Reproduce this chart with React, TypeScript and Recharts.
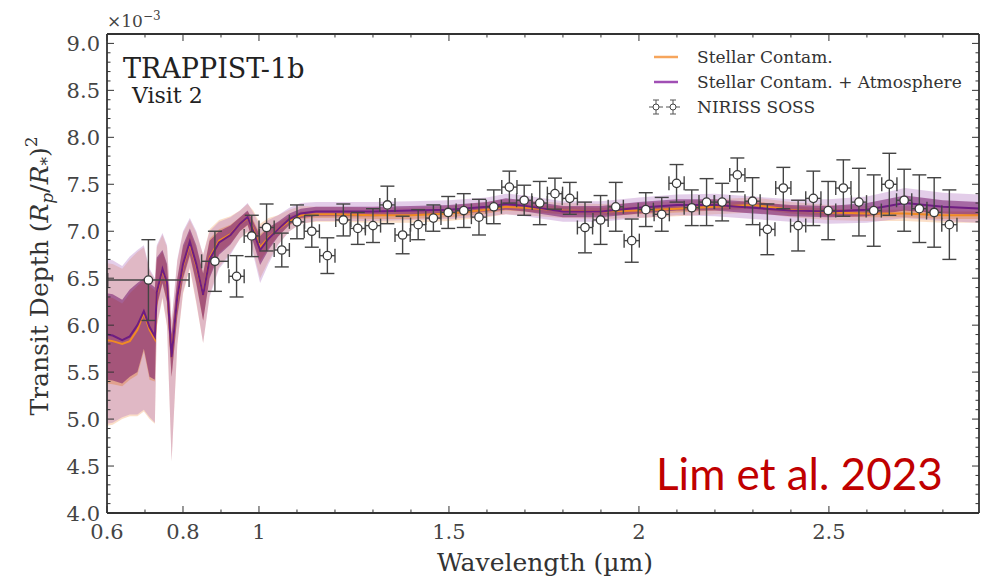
import React from 'react'
import { ComposedChart, Area, Line, Scatter, ErrorBar, XAxis, YAxis, Legend } from 'recharts'

// model grid (µm)
const MODEL_WL = [0.600, 0.615, 0.640, 0.660, 0.680, 0.697, 0.712, 0.726, 0.731, 0.746, 0.758, 0.770, 0.785, 0.800, 0.818, 0.835, 0.853, 0.870, 0.895, 0.925, 0.950, 0.970, 0.985, 1.003, 1.025, 1.050, 1.080, 1.110, 1.150, 1.200, 1.300, 1.400, 1.500, 1.600, 1.650, 1.700, 1.800, 1.900, 2.000, 2.100, 2.200, 2.300, 2.400, 2.500, 2.600, 2.700, 2.800, 2.900]

// Stellar Contam. + Atmosphere (purple)
const ATM_MID = [5.90, 5.89, 5.84, 5.88, 6.00, 6.15, 5.98, 5.88, 6.35, 6.60, 6.45, 5.66, 6.30, 6.65, 6.89, 6.65, 6.32, 6.70, 6.88, 6.96, 7.08, 7.15, 7.00, 6.80, 6.92, 7.02, 7.13, 7.19, 7.21, 7.21, 7.21, 7.22, 7.23, 7.26, 7.29, 7.27, 7.21, 7.21, 7.25, 7.28, 7.28, 7.25, 7.22, 7.21, 7.23, 7.30, 7.26, 7.24]
const ATM_1LO = [5.42, 5.41, 5.38, 5.45, 5.50, 5.75, 5.45, 5.42, 6.20, 6.45, 6.25, 5.45, 6.10, 6.50, 6.75, 6.45, 6.05, 6.50, 6.75, 6.86, 7.00, 7.07, 6.88, 6.64, 6.80, 6.94, 7.07, 7.14, 7.16, 7.16, 7.16, 7.17, 7.18, 7.21, 7.23, 7.21, 7.15, 7.15, 7.19, 7.22, 7.22, 7.19, 7.16, 7.15, 7.16, 7.22, 7.19, 7.17]
const ATM_1HI = [6.34, 6.33, 6.27, 6.38, 6.45, 6.50, 6.45, 6.40, 6.72, 6.80, 6.65, 5.90, 6.50, 6.85, 7.03, 6.85, 6.55, 6.90, 7.00, 7.06, 7.15, 7.22, 7.10, 6.95, 7.04, 7.10, 7.19, 7.24, 7.26, 7.26, 7.26, 7.27, 7.28, 7.31, 7.35, 7.33, 7.27, 7.27, 7.31, 7.34, 7.34, 7.31, 7.28, 7.27, 7.30, 7.38, 7.33, 7.31]
const ATM_2LO = [4.95, 4.96, 5.02, 5.05, 5.05, 5.10, 5.02, 4.96, 6.00, 6.30, 6.00, 4.55, 5.80, 6.35, 6.62, 6.25, 5.81, 6.30, 6.60, 6.75, 6.92, 7.00, 6.75, 6.45, 6.65, 6.85, 7.00, 7.08, 7.11, 7.11, 7.11, 7.12, 7.13, 7.16, 7.18, 7.16, 7.10, 7.10, 7.14, 7.17, 7.16, 7.13, 7.10, 7.08, 7.09, 7.14, 7.11, 7.09]
const ATM_2HI = [6.70, 6.69, 6.63, 6.73, 6.80, 6.85, 6.60, 6.50, 6.85, 6.98, 6.85, 6.05, 6.70, 7.00, 7.14, 7.00, 6.75, 7.00, 7.10, 7.15, 7.22, 7.30, 7.20, 7.05, 7.12, 7.17, 7.25, 7.30, 7.31, 7.31, 7.31, 7.32, 7.33, 7.36, 7.40, 7.38, 7.32, 7.32, 7.36, 7.39, 7.40, 7.37, 7.34, 7.34, 7.37, 7.46, 7.41, 7.39]

// Stellar Contam. (orange)
const STAR_MID = [5.84, 5.83, 5.80, 5.83, 5.95, 6.13, 5.95, 5.85, 6.33, 6.59, 6.43, 5.66, 6.28, 6.63, 6.87, 6.63, 6.32, 6.72, 6.90, 6.97, 7.08, 7.14, 7.02, 6.83, 6.93, 7.02, 7.11, 7.17, 7.18, 7.18, 7.17, 7.17, 7.19, 7.23, 7.26, 7.25, 7.22, 7.21, 7.22, 7.24, 7.26, 7.28, 7.23, 7.20, 7.19, 7.19, 7.17, 7.17]
const STAR_1LO = [5.38, 5.37, 5.35, 5.42, 5.47, 5.72, 5.42, 5.40, 6.18, 6.44, 6.23, 5.45, 6.08, 6.48, 6.73, 6.43, 6.05, 6.52, 6.77, 6.87, 7.00, 7.06, 6.90, 6.68, 6.82, 6.95, 7.06, 7.13, 7.14, 7.14, 7.13, 7.13, 7.15, 7.19, 7.22, 7.21, 7.18, 7.17, 7.18, 7.20, 7.22, 7.24, 7.19, 7.16, 7.15, 7.15, 7.13, 7.13]
const STAR_1HI = [6.30, 6.29, 6.23, 6.34, 6.42, 6.48, 6.42, 6.37, 6.70, 6.78, 6.63, 5.88, 6.48, 6.82, 7.00, 6.82, 6.55, 6.92, 7.02, 7.07, 7.15, 7.21, 7.12, 6.97, 7.04, 7.09, 7.16, 7.21, 7.22, 7.22, 7.21, 7.21, 7.23, 7.27, 7.30, 7.29, 7.26, 7.25, 7.26, 7.28, 7.30, 7.32, 7.27, 7.24, 7.23, 7.23, 7.21, 7.21]
const STAR_2LO = [4.93, 4.94, 5.00, 5.03, 5.03, 5.08, 5.00, 4.95, 5.98, 6.28, 5.98, 4.55, 5.78, 6.33, 6.60, 6.23, 5.81, 6.32, 6.62, 6.77, 6.92, 6.99, 6.78, 6.50, 6.68, 6.86, 7.00, 7.08, 7.10, 7.10, 7.09, 7.09, 7.11, 7.15, 7.18, 7.17, 7.14, 7.13, 7.14, 7.16, 7.18, 7.20, 7.15, 7.12, 7.11, 7.11, 7.09, 7.09]
const STAR_2HI = [6.66, 6.65, 6.60, 6.70, 6.78, 6.83, 6.58, 6.48, 6.83, 6.96, 6.83, 6.03, 6.68, 6.98, 7.12, 6.98, 6.75, 7.02, 7.12, 7.16, 7.22, 7.29, 7.22, 7.08, 7.14, 7.17, 7.23, 7.27, 7.26, 7.26, 7.25, 7.25, 7.27, 7.31, 7.34, 7.33, 7.30, 7.29, 7.30, 7.32, 7.34, 7.36, 7.31, 7.28, 7.27, 7.27, 7.25, 7.25]

// NIRISS SOSS spectrum (depth in units of 1e-3)
const SOSS_WL = [0.709, 0.884, 0.941, 0.981, 1.02, 1.06, 1.10, 1.139, 1.18, 1.222, 1.26, 1.30, 1.338, 1.378, 1.419, 1.459, 1.498, 1.539, 1.579, 1.618, 1.659, 1.698, 1.739, 1.779, 1.818, 1.858, 1.899, 1.939, 1.981, 2.018, 2.06, 2.099, 2.139, 2.178, 2.219, 2.259, 2.299, 2.338, 2.38, 2.419, 2.459, 2.498, 2.538, 2.579, 2.618, 2.659, 2.698, 2.738, 2.777, 2.817]
const SOSS_WL_ERR = [0.107, 0.035, 0.02, 0.02, 0.02, 0.02, 0.02, 0.02, 0.02, 0.02, 0.02, 0.02, 0.02, 0.02, 0.02, 0.02, 0.02, 0.02, 0.02, 0.02, 0.02, 0.02, 0.02, 0.02, 0.02, 0.02, 0.02, 0.02, 0.02, 0.02, 0.02, 0.02, 0.02, 0.02, 0.02, 0.02, 0.02, 0.02, 0.02, 0.02, 0.02, 0.02, 0.02, 0.02, 0.02, 0.02, 0.02, 0.02, 0.02, 0.02]
const SOSS_DEPTH = [6.48, 6.68, 6.52, 6.95, 7.04, 6.80, 7.10, 7.00, 6.74, 7.12, 7.03, 7.06, 7.28, 6.96, 7.07, 7.14, 7.20, 7.22, 7.15, 7.26, 7.47, 7.33, 7.30, 7.40, 7.35, 7.04, 7.12, 7.26, 6.90, 7.23, 7.18, 7.51, 7.25, 7.31, 7.31, 7.60, 7.32, 7.02, 7.46, 7.06, 7.35, 7.22, 7.46, 7.31, 7.22, 7.50, 7.33, 7.24, 7.20, 7.07]
const SOSS_ERR = [0.43, 0.32, 0.22, 0.22, 0.25, 0.18, 0.18, 0.17, 0.19, 0.17, 0.17, 0.18, 0.2, 0.2, 0.16, 0.14, 0.17, 0.18, 0.19, 0.18, 0.17, 0.16, 0.23, 0.165, 0.17, 0.27, 0.26, 0.26, 0.23, 0.18, 0.18, 0.2, 0.19, 0.25, 0.2, 0.18, 0.25, 0.27, 0.22, 0.27, 0.29, 0.31, 0.3, 0.36, 0.38, 0.33, 0.33, 0.36, 0.37, 0.37]

const X_MAJOR = [0.6, 0.8, 1, 1.5, 2, 2.5]
const Y_MAJOR = [4.0, 4.5, 5.0, 5.5, 6.0, 6.5, 7.0, 7.5, 8.0, 8.5, 9.0]
const X_DOMAIN = [0.6, 2.895]
const Y_DOMAIN = [4.0, 9.1]

const X_TICKS: number[] = []
for (let i = 6; i <= 28; i++) X_TICKS.push(i / 10)
const Y_TICKS: number[] = []
for (let i = 40; i <= 90; i++) Y_TICKS.push(i / 10)

// plot box: left 107, right 979, top 34, bottom 513
const PLOT_W = 872
const PLOT_H = 479

const SERIF = '"DejaVu Serif", serif'
const AXIS = '#333'
const ORANGE = '#f08a24'
const PURPLE = '#6e1d82'

const modelData = MODEL_WL.map((w, i) => ({
  w,
  atm: ATM_MID[i],
  atm1: [ATM_1LO[i], ATM_1HI[i]],
  atm2: [ATM_2LO[i], ATM_2HI[i]],
  star: STAR_MID[i],
  star1: [STAR_1LO[i], STAR_1HI[i]],
  star2: [STAR_2LO[i], STAR_2HI[i]]
}))

const sossData = SOSS_WL.map((w, i) => ({
  w,
  d: SOSS_DEPTH[i],
  ex: SOSS_WL_ERR[i],
  ey: SOSS_ERR[i]
}))

const isMajor = (list: number[], v: number) => list.some((m) => Math.abs(m - v) < 1e-6)

// bottom axis tick, also draws the matching tick on the top frame
function XTick(props: any) {
  const { x, y, payload } = props
  const v = payload.value
  const major = isMajor(X_MAJOR, v)
  const len = major ? 7 : 3.5
  const top = y - PLOT_H
  return (
    <g>
      <line x1={x} x2={x} y1={y} y2={y - len} stroke={AXIS} strokeWidth={1} />
      <line x1={x} x2={x} y1={top} y2={top + len} stroke={AXIS} strokeWidth={1} />
      {major && (
        <text x={x} y={y + 26} textAnchor="middle" fontFamily={SERIF} fontSize={21} fill="#444">
          {String(v)}
        </text>
      )}
    </g>
  )
}

// left axis tick, also draws the matching tick on the right frame
function YTick(props: any) {
  const { x, y, payload } = props
  const v = payload.value
  const major = isMajor(Y_MAJOR, v)
  const len = major ? 7 : 3.5
  const right = x + PLOT_W
  return (
    <g>
      <line x1={x} x2={x + len} y1={y} y2={y} stroke={AXIS} strokeWidth={1} />
      <line x1={right} x2={right - len} y1={y} y2={y} stroke={AXIS} strokeWidth={1} />
      {major && (
        <text x={x - 7} y={y} dy="0.36em" textAnchor="end" fontFamily={SERIF} fontSize={21} fill="#444">
          {v.toFixed(1)}
        </text>
      )}
    </g>
  )
}

function SossMarker({ cx, cy }: any) {
  return <circle cx={cx} cy={cy} r={4.2} fill="#fff" stroke="#3a3a3a" strokeWidth={1.3} />
}

function LegendIcon() {
  return (
    <svg width={16} height={16} style={{ marginRight: 1 }}>
      <line x1={1} x2={15} y1={8} y2={8} stroke="#555" strokeWidth={1} />
      <line x1={8} x2={8} y1={1} y2={15} stroke="#555" strokeWidth={1} />
      <line x1={5} x2={11} y1={1} y2={1} stroke="#555" strokeWidth={1} />
      <line x1={5} x2={11} y1={15} y2={15} stroke="#555" strokeWidth={1} />
      <circle cx={8} cy={8} r={3} fill="#fff" stroke="#444" strokeWidth={1} />
    </svg>
  )
}

function renderLegend() {
  const row = { display: 'flex', alignItems: 'center', height: 25 }
  const text = { fontFamily: SERIF, fontSize: 17, color: '#333', marginLeft: 15 }
  return (
    <div>
      <div style={row}>
        <svg width={42} height={10}>
          <line x1={14} x2={38} y1={5} y2={5} stroke="#f6a55c" strokeWidth={2.5} />
        </svg>
        <span style={text}>Stellar Contam.</span>
      </div>
      <div style={row}>
        <svg width={42} height={10}>
          <line x1={14} x2={38} y1={5} y2={5} stroke="#a04fb4" strokeWidth={2.5} />
        </svg>
        <span style={text}>Stellar Contam. + Atmosphere</span>
      </div>
      <div style={row}>
        <div style={{ width: 42, display: 'flex', justifyContent: 'flex-end' }}>
          <LegendIcon />
          <LegendIcon />
        </div>
        <span style={text}>NIRISS SOSS</span>
      </div>
    </div>
  )
}

export default function App() {
  return (
    <div style={{ position: 'absolute', left: 0, top: 0, width: 986, height: 579, background: '#fff' }}>
      <ComposedChart
        width={986}
        height={579}
        data={modelData}
        margin={{ top: 33, right: 6, bottom: 26, left: 47 }}
      >
        <XAxis
          dataKey="w"
          type="number"
          domain={X_DOMAIN}
          allowDataOverflow
          ticks={X_TICKS}
          interval={0}
          height={40}
          tickSize={0}
          tickMargin={0}
          tickLine={false}
          axisLine={{ stroke: AXIS, strokeWidth: 1.8 }}
          tick={XTick}
        />
        <XAxis
          xAxisId="top"
          orientation="top"
          type="number"
          domain={X_DOMAIN}
          allowDataOverflow
          height={1}
          tick={false}
          tickLine={false}
          axisLine={{ stroke: AXIS, strokeWidth: 1.8 }}
        />
        <YAxis
          type="number"
          domain={Y_DOMAIN}
          allowDataOverflow
          ticks={Y_TICKS}
          interval={0}
          width={60}
          tickSize={0}
          tickMargin={0}
          tickLine={false}
          axisLine={{ stroke: AXIS, strokeWidth: 1.8 }}
          tick={YTick}
        />
        <YAxis
          yAxisId="right"
          orientation="right"
          type="number"
          domain={Y_DOMAIN}
          allowDataOverflow
          width={1}
          tick={false}
          tickLine={false}
          axisLine={{ stroke: AXIS, strokeWidth: 1.8 }}
        />
        <Legend
          layout="vertical"
          align="center"
          verticalAlign="middle"
          content={renderLegend}
          wrapperStyle={{ position: 'absolute', left: 640, top: 44, width: 345 }}
        />
        <Area dataKey="star2" type="linear" stroke="none" fill="#f4a460" fillOpacity={0.35} isAnimationActive={false} />
        <Area dataKey="atm2" type="linear" stroke="none" fill="#b070c0" fillOpacity={0.35} isAnimationActive={false} />
        <Area dataKey="star1" type="linear" stroke="none" fill="#e0803a" fillOpacity={0.4} isAnimationActive={false} />
        <Area dataKey="atm1" type="linear" stroke="none" fill="#74186c" fillOpacity={0.55} isAnimationActive={false} />
        <Line dataKey="star" type="linear" stroke={ORANGE} strokeWidth={2} dot={false} isAnimationActive={false} />
        <Line dataKey="atm" type="linear" stroke={PURPLE} strokeWidth={2} dot={false} isAnimationActive={false} />
        <Scatter data={sossData} dataKey="d" shape={SossMarker} isAnimationActive={false}>
          <ErrorBar dataKey="ey" direction="y" width={7} stroke="#444" strokeWidth={1.4} isAnimationActive={false} />
          <ErrorBar dataKey="ex" direction="x" width={7} stroke="#444" strokeWidth={1.4} isAnimationActive={false} />
        </Scatter>
      </ComposedChart>
      <svg
        width={986}
        height={579}
        style={{ position: 'absolute', left: 0, top: 0, pointerEvents: 'none' }}
      >
        <text x={107} y={27} fontFamily={SERIF} fontSize={17} fill="#444">
          ×10<tspan dy={-7} fontSize={12}>−3</tspan>
        </text>
        <text x={123} y={78} fontFamily={SERIF} fontSize={27} fill="#222">TRAPPIST-1b</text>
        <text x={132} y={103} fontFamily={SERIF} fontSize={22} fill="#222">Visit 2</text>
        <text x={545} y={571} textAnchor="middle" fontFamily={SERIF} fontSize={25} fill="#333">
          Wavelength (µm)
        </text>
        <text
          transform="translate(48,276) rotate(-90)"
          textAnchor="middle"
          fontFamily={SERIF}
          fontSize={25}
          fill="#333"
        >
          Transit Depth (<tspan fontStyle="italic">R</tspan>
          <tspan fontStyle="italic" fontSize={17} dy={5}>p</tspan>
          <tspan dy={-5}>/</tspan>
          <tspan fontStyle="italic">R</tspan>
          <tspan fontSize={17} dy={5}>*</tspan>
          <tspan dy={-5}>)</tspan>
          <tspan fontSize={17} dy={-11}>2</tspan>
        </text>
        <text x={656} y={490} fontFamily="Lato, sans-serif" fontSize={44} fill="#c00000">
          Lim et al. 2023
        </text>
      </svg>
    </div>
  )
}
